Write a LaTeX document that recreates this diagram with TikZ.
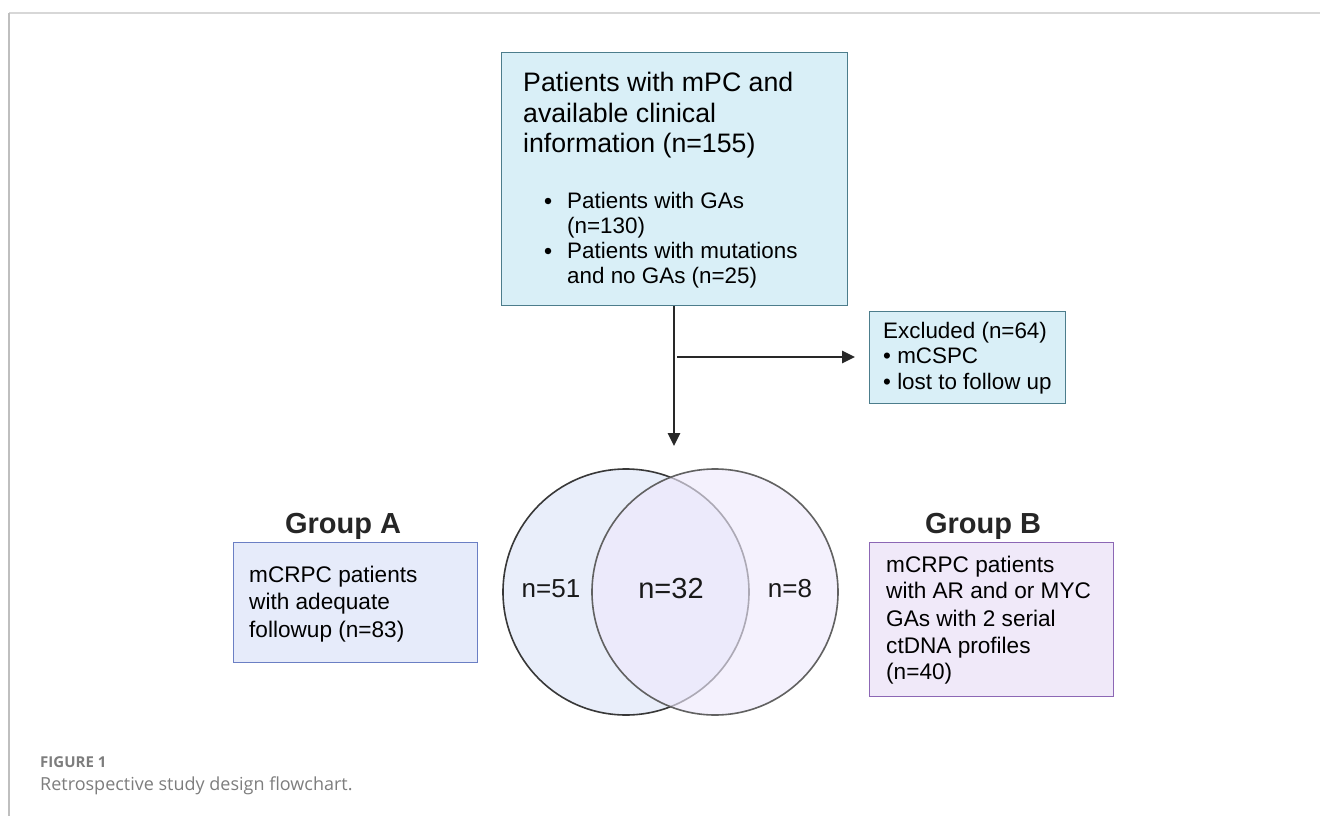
\documentclass[tikz,border=0pt]{standalone}
\usepackage{fontspec}
\setmainfont{Liberation Sans}
\newfontfamily\capfont{Open Sans}
\usetikzlibrary{arrows.meta}
\definecolor{mainfill}{RGB}{217,239,247}
\definecolor{mainedge}{RGB}{76,125,140}
\definecolor{afill}{RGB}{230,235,250}
\definecolor{aedge}{RGB}{107,127,196}
\definecolor{bfill}{RGB}{240,233,249}
\definecolor{bedge}{RGB}{140,103,181}
\definecolor{vleft}{RGB}{233,238,250}
\definecolor{vright}{RGB}{238,233,252}
\definecolor{arrowc}{RGB}{40,40,40}
\definecolor{capgray}{RGB}{125,125,125}
\definecolor{framegray}{RGB}{215,215,215}
\tikzset{
  boxbase/.style={draw, line width=1.2pt, inner sep=0pt, anchor=north west},
  mainbox/.style={boxbase, fill=mainfill, draw=mainedge},
  abox/.style={boxbase, fill=afill, draw=aedge},
  bbox/.style={boxbase, fill=bfill, draw=bedge},
  txt/.style={anchor=base west, inner sep=0pt, text=black},
  flowarrow/.style={draw=arrowc, line width=2.6pt, -{Triangle[length=13pt,width=12pt]}},
  heading/.style={anchor=base, inner sep=0pt, font=\fontsize{29}{30}\selectfont\bfseries, text=black!85},
  vnum/.style={anchor=base, inner sep=0pt, text=black!90},
  titlef/.style={font=\fontsize{26.7}{30}\selectfont},
  bulf/.style={font=\fontsize{22.4}{25}\selectfont},
  exf/.style={font=\fontsize{22.4}{25}\selectfont},
  grpf/.style={font=\fontsize{22.6}{27}\selectfont},
}
\begin{document}
\begin{tikzpicture}[x=1pt,y=-1pt]
\useasboundingbox (0,0) rectangle (1320,816);
% frame lines
\draw[framegray, line width=1.5pt] (9,13) -- (1320,13);
\draw[black!25, line width=1.2pt] (9,13) -- (9,816);

% main box
\node[mainbox, minimum width=346pt, minimum height=253pt] (main) at (501,52) {};
\node[txt, titlef] (t1) at (523,92) {Patients with mPC and};
\node[txt, titlef] (t2) at (523,122) {available clinical};
\node[txt, titlef] (t3) at (523,152) {information (n=155)};
\node[anchor=center, circle, fill=black, inner sep=0pt, minimum size=6.5pt] (b1) at (548,201) {};
\node[anchor=center, circle, fill=black, inner sep=0pt, minimum size=6.5pt] (b2) at (548,251) {};
\node[txt, bulf] (u1) at (567,208) {Patients with GAs};
\node[txt, bulf] (u2) at (567,233) {(n=130)};
\node[txt, bulf] (u3) at (567,258) {Patients with mutations};
\node[txt, bulf] (u4) at (567,283) {and no GAs (n=25)};

% excluded box
\node[mainbox, minimum width=196pt, minimum height=92pt] (excl) at (869,311) {};
\node[txt, exf] (e1) at (883,338) {Excluded (n=64)};
\node[txt, exf] (e2) at (883,363) {\textbullet\ mCSPC};
\node[txt, exf] (e3) at (883,389) {\textbullet\ lost to follow up};

% arrows
\coordinate (split) at (674,357);
\coordinate (down) at (674,446);
\coordinate (splitr) at (677,357);
\coordinate (right) at (855,357);
\draw[flowarrow] (main.south -| split) -- (down);
\draw[flowarrow] (splitr) -- (right);

% venn
\fill[vleft] (626,592) circle (123);
\draw[black!78, line width=1.6pt] (626,592) circle (123);
\fill[vright, opacity=0.64] (715,592) circle (123);
\draw[black!62, line width=1.6pt] (715,592) circle (123);
\node[vnum, font=\fontsize{26}{30}\selectfont] (n51) at (551,597) {n=51};
\node[vnum, font=\fontsize{29}{30}\selectfont] (n32) at (671,598) {n=32};
\node[vnum, font=\fontsize{26}{30}\selectfont] (n8) at (790,597) {n=8};

% group A
\node[heading] (ga) at (343,533) {Group A};
\node[abox, minimum width=244pt, minimum height=120pt] (abx) at (233,542) {};
\node[txt, grpf] (a1) at (249,582) {mCRPC patients};
\node[txt, grpf] (a2) at (249,609) {with adequate};
\node[txt, grpf] (a3) at (249,637) {followup (n=83)};

% group B
\node[heading] (gb) at (983,533) {Group B};
\node[bbox, minimum width=244pt, minimum height=154pt] (bbx) at (869,542) {};
\node[txt, grpf] (c1) at (886,572) {mCRPC patients};
\node[txt, grpf] (c2) at (886,598) {with AR and or MYC};
\node[txt, grpf] (c3) at (886,626) {GAs with 2 serial};
\node[txt, grpf] (c4) at (886,653) {ctDNA profiles};
\node[txt, grpf] (c5) at (886,679) {(n=40)};

% caption
\node[anchor=base west, inner sep=0pt, text=capgray, font=\capfont\fontsize{15}{18}\selectfont\bfseries] (fig) at (40,767) {FIGURE 1};
\node[anchor=base west, inner sep=0pt, text=capgray, font=\capfont\fontsize{18}{22}\selectfont] (cap) at (40,790) {Retrospective study design flowchart.};
\end{tikzpicture}
\end{document}
